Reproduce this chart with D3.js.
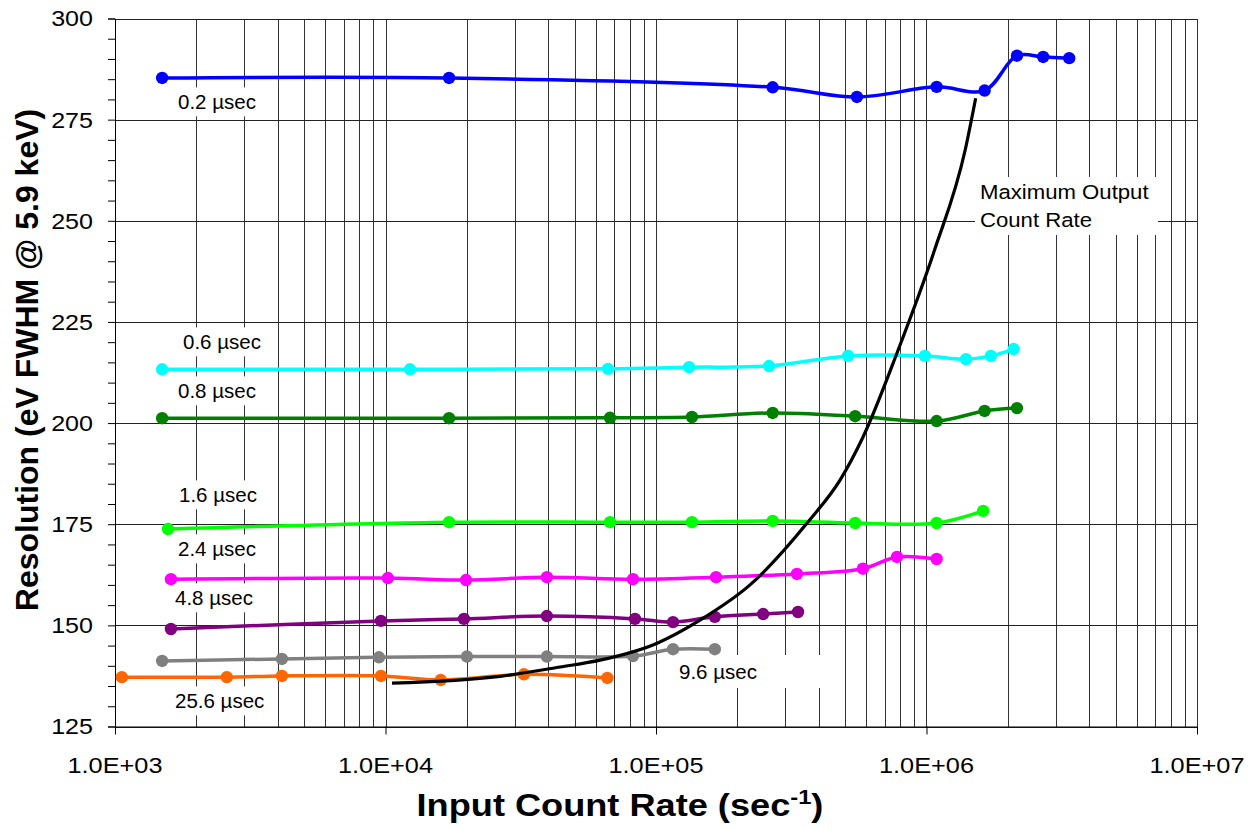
<!DOCTYPE html>
<html>
<head>
<meta charset="utf-8">
<script src="https://cdn.jsdelivr.net/npm/d3@7"></script>
<style>
  body { margin: 0; background: #fff; }
  text { font-family: "Liberation Sans", Arial, sans-serif; }
</style>
</head>
<body>
<svg id="chart"></svg>
<script>
// data
const xTicks = [1e3, 1e4, 1e5, 1e6, 1e7];
const xTickLabels = ["1.0E+03", "1.0E+04", "1.0E+05", "1.0E+06", "1.0E+07"];
const yTicks = [125, 150, 175, 200, 225, 250, 275, 300];

const rate02 = [1494, 17180, 270000, 553000, 1090000, 1640000, 2160000, 2700000, 3370000];
const res02 = [285.3, 285.3, 283.0, 280.6, 283.1, 282.2, 290.8, 290.5, 290.2];

const rate06 = [1494, 12320, 66460, 132500, 261800, 513000, 986000, 1400000, 1730000, 2100000];
const res06 = [213.3, 213.3, 213.4, 213.8, 214.1, 216.6, 216.6, 215.8, 216.6, 218.3];

const rate08 = [1494, 17180, 67600, 135800, 270000, 545000, 1090000, 1640000, 2160000];
const res08 = [201.2, 201.2, 201.3, 201.5, 202.5, 201.7, 200.5, 203.0, 203.7];

const rate16 = [1570, 17180, 67600, 135800, 270000, 545000, 1090000, 1620000];
const res16 = [173.8, 175.5, 175.5, 175.5, 175.8, 175.3, 175.3, 178.3];

const rate24 = [1610, 10200, 19850, 39500, 82200, 166700, 332000, 582000, 778000, 1090000];
const res24 = [161.4, 161.7, 161.2, 161.9, 161.4, 161.9, 162.7, 164.0, 166.9, 166.4];

const rate48 = [1610, 9620, 19500, 39500, 83600, 115600, 165000, 249000, 335000];
const res48 = [149.1, 151.1, 151.6, 152.3, 151.6, 150.8, 152.1, 152.8, 153.3];

const rate96 = [1494, 4140, 9460, 20000, 39500, 82200, 115600, 165000];
const res96 = [141.2, 141.7, 142.1, 142.3, 142.3, 142.4, 144.1, 144.1];

const rate256 = [1060, 2590, 4140, 9620, 16000, 32500, 66100];
const res256 = [137.2, 137.2, 137.5, 137.5, 136.5, 137.9, 137.0];

const mocrRate = [10570, 26500, 44200, 62100, 101000, 145400, 222600, 365000, 479000, 582000, 785000, 1070000, 1390000, 1520000];
const mocrRes = [135.7, 137.4, 139.7, 141.4, 145.6, 151.3, 160.0, 175.6, 185.9, 196.5, 218.0, 242.7, 267.5, 280.3];

const seriesList = [
  { rate: rate02, res: res02, color: "#0000ff" },
  { rate: rate06, res: res06, color: "#00ffff" },
  { rate: rate08, res: res08, color: "#008000" },
  { rate: rate16, res: res16, color: "#00ff00" },
  { rate: rate24, res: res24, color: "#ff00ff" },
  { rate: rate48, res: res48, color: "#800080" },
  { rate: rate96, res: res96, color: "#808080" },
  { rate: rate256, res: res256, color: "#ff6600" }
];

const width = 1258;
const height = 829;
const margin = { top: 18.5, right: 61, bottom: 102.5, left: 115 };

const svg = d3.select("#chart").attr("width", width).attr("height", height);

const x = d3.scaleLog()
  .domain([1e3, 1e7])
  .range([margin.left, width - margin.right]);

const y = d3.scaleLinear()
  .domain([125, 300])
  .range([height - margin.bottom, margin.top]);

// widen a text a bit, the original looks stretched sideways
function stretch(sel, f) {
  sel.each(function () {
    const w = this.getComputedTextLength();
    d3.select(this).attr("textLength", w * f).attr("lengthAdjust", "spacingAndGlyphs");
  });
}

// grid
const minorX = [];
for (let k = 3; k < 7; k++) {
  for (let d = 1; d <= 9; d++) minorX.push(d * Math.pow(10, k));
}
minorX.push(1e7);

const grid = svg.append("g").attr("shape-rendering", "crispEdges");
grid.selectAll("line.vx")
  .data(minorX)
  .join("line")
  .attr("x1", (d) => Math.round(x(d)) + 0.5)
  .attr("x2", (d) => Math.round(x(d)) + 0.5)
  .attr("y1", y(300))
  .attr("y2", y(125))
  .attr("stroke", "#333")
  .attr("stroke-width", 1);

grid.selectAll("line.hy")
  .data(yTicks)
  .join("line")
  .attr("x1", x(1e3))
  .attr("x2", x(1e7))
  .attr("y1", (d) => Math.round(y(d)) + 0.5)
  .attr("y2", (d) => Math.round(y(d)) + 0.5)
  .attr("stroke", "#222")
  .attr("stroke-width", 1);

// axes
const yAxis = (g) =>
  g.attr("transform", `translate(${x(1e3)},0)`)
    .call(d3.axisLeft(y).tickValues(d3.range(125, 301, 5)).tickSize(7).tickFormat(""))
    .call((g) => g.selectAll("line,path").attr("stroke", "#000"));

const xAxis = (g) =>
  g.attr("transform", `translate(0,${y(125)})`)
    .call(d3.axisBottom(x).tickValues(xTicks).tickSize(8).tickSizeOuter(0).tickFormat(""))
    .call((g) => g.selectAll("line,path").attr("stroke", "#000"));

svg.append("g").call(yAxis);
svg.append("g").call(xAxis);

svg.append("g")
  .selectAll("text")
  .data(yTicks)
  .join("text")
  .attr("x", x(1e3) - 22)
  .attr("y", (d) => y(d))
  .attr("dy", "0.36em")
  .attr("text-anchor", "end")
  .attr("font-size", 22)
  .text((d) => d)
  .call(stretch, 1.14);

svg.append("g")
  .selectAll("text")
  .data(xTicks)
  .join("text")
  .attr("x", (d) => x(d))
  .attr("y", y(125) + 46)
  .attr("text-anchor", "middle")
  .attr("font-size", 22)
  .text((d, i) => xTickLabels[i])
  .call(stretch, 1.15);

// axis titles
const xTitle = svg.append("text")
  .attr("x", 620)
  .attr("y", 816)
  .attr("text-anchor", "middle")
  .attr("font-size", 32)
  .attr("font-weight", "bold");
xTitle.append("tspan").text("Input Count Rate (sec");
xTitle.append("tspan").attr("dy", -12).attr("font-size", 21).text("-1");
xTitle.append("tspan").attr("dy", 12).text(")");
xTitle.call(stretch, 1.13);

svg.append("text")
  .attr("transform", `translate(38,${360}) rotate(-90)`)
  .attr("text-anchor", "middle")
  .attr("font-size", 32)
  .attr("font-weight", "bold")
  .text("Resolution (eV FWHM @ 5.9 keV)");

// series labels with white boxes
const labelPos = [
  { text: "0.2 \u00b5sec", x: 178, y: 102 },
  { text: "0.6 \u00b5sec", x: 183, y: 342 },
  { text: "0.8 \u00b5sec", x: 178, y: 391 },
  { text: "1.6 \u00b5sec", x: 179, y: 495 },
  { text: "2.4 \u00b5sec", x: 178, y: 549 },
  { text: "4.8 \u00b5sec", x: 175, y: 598 },
  { text: "25.6 \u00b5sec", x: 175, y: 701 }
];

const labels = svg.append("g");
labelPos.forEach((l) => {
  const g = labels.append("g");
  const t = g.append("text")
    .attr("x", l.x)
    .attr("y", l.y)
    .attr("dy", "0.36em")
    .attr("font-size", 20.5)
    .text(l.text);
  const b = t.node().getBBox();
  g.insert("rect", "text")
    .attr("x", b.x - 5)
    .attr("y", b.y - 3)
    .attr("width", b.width + 10)
    .attr("height", b.height + 6)
    .attr("fill", "#fff");
});

// 9.6 label sits in a wider box
const l96 = labels.append("g");
l96.append("rect")
  .attr("x", 661).attr("y", 655).attr("width", 163).attr("height", 33)
  .attr("fill", "#fff");
l96.append("text")
  .attr("x", 679).attr("y", 672).attr("dy", "0.36em")
  .attr("font-size", 20.5)
  .text("9.6 \u00b5sec");

const mocrLabel = labels.append("g");
mocrLabel.append("rect")
  .attr("x", 975).attr("y", 177).attr("width", 183).attr("height", 58)
  .attr("fill", "#fff");
const mt = mocrLabel.append("text").attr("font-size", 20.5);
mt.append("tspan").attr("x", 980).attr("y", 199).text("Maximum Output");
mt.append("tspan").attr("x", 980).attr("y", 227).text("Count Rate");
mt.selectAll("tspan").call(stretch, 1.08);

// lines
const line = d3.line()
  .x((d) => x(d[0]))
  .y((d) => y(d[1]))
  .curve(d3.curveCatmullRom);

const plot = svg.append("g");

seriesList.forEach((s) => {
  const pts = s.rate.map((r, i) => [r, s.res[i]]);
  plot.append("path")
    .datum(pts)
    .attr("fill", "none")
    .attr("stroke", s.color)
    .attr("stroke-width", 3.5)
    .attr("stroke-linejoin", "round")
    .attr("stroke-linecap", "round")
    .attr("d", line);
  plot.append("g")
    .selectAll("circle")
    .data(pts)
    .join("circle")
    .attr("cx", (d) => x(d[0]))
    .attr("cy", (d) => y(d[1]))
    .attr("r", 6.2)
    .attr("fill", s.color);
});

const mocrPts = mocrRate.map((r, i) => [r, mocrRes[i]]);
plot.append("path")
  .datum(mocrPts)
  .attr("fill", "none")
  .attr("stroke", "#000")
  .attr("stroke-width", 3.2)
  .attr("d", line.curve(d3.curveMonotoneX));
</script>
</body>
</html>
